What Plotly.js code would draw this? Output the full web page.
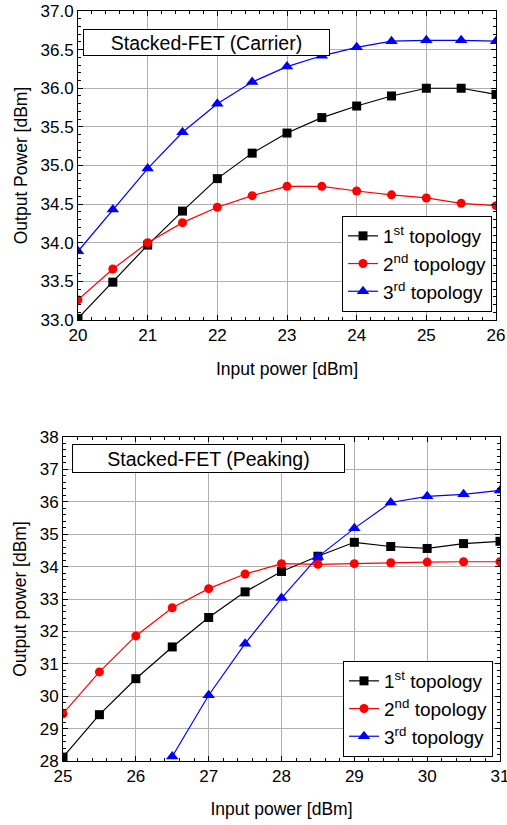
<!DOCTYPE html>
<html><head><meta charset="utf-8">
<script src="https://cdn.plot.ly/plotly-3.0.1.min.js"></script>
<style>body{margin:0;padding:0;background:#fff}#chart{width:507px;height:825px}</style>
</head><body><div id="chart"></div>
<script>
// Carrier (top)
const carrierX = [20,20.5,21,21.5,22,22.5,23,23.5,24,24.5,25,25.5,26];
const carrierT1 = [33.02,33.49,33.97,34.41,34.83,35.16,35.42,35.62,35.77,35.90,36.00,36.00,35.92];
const carrierT2 = [33.26,33.66,34.00,34.26,34.46,34.61,34.73,34.73,34.67,34.62,34.58,34.51,34.48];
const carrierT3 = [33.89,34.43,34.96,35.43,35.80,36.08,36.28,36.42,36.53,36.61,36.62,36.62,36.61];
// Peaking (bottom)
const peakX = [25,25.5,26,26.5,27,27.5,28,28.5,29,29.5,30,30.5,31];
const peakT1 = [28.12,29.43,30.54,31.52,32.43,33.22,33.85,34.32,34.75,34.62,34.56,34.71,34.78];
const peakT2 = [29.46,30.75,31.86,32.73,33.32,33.77,34.09,34.07,34.09,34.12,34.14,34.15,34.15];
const peakX3 = [26.5,27,27.5,28,28.5,29,29.5,30,30.5,31];
const peakT3 = [28.14,30.03,31.62,33.03,34.30,35.18,35.98,36.17,36.23,36.35];
const names = ['1<sup>st</sup> topology','2<sup>nd</sup> topology','3<sup>rd</sup> topology'];
const titles = ['Stacked-FET (Carrier)','Stacked-FET (Peaking)'];

const colors = ['#000000','#ff0000','#0000ff'];
const symbols = ['square','circle','triangle-up'];
const font = 'Liberation Sans, Arial, sans-serif';

function tr(x,y,i,ax,leg){
  return {x:x,y:y,name:names[i],type:'scatter',mode:'lines+markers',
    xaxis:ax[0],yaxis:ax[1],legend:leg,cliponaxis:true,
    line:{color:colors[i],width:1.2},
    marker:{symbol:symbols[i],size:symbols[i]==='triangle-up'?11:9,color:colors[i]}};
}
const data = [
  tr(carrierX,carrierT1,0,['x','y'],'legend'),
  tr(carrierX,carrierT2,1,['x','y'],'legend'),
  tr(carrierX,carrierT3,2,['x','y'],'legend'),
  tr(peakX,peakT1,0,['x2','y2'],'legend2'),
  tr(peakX,peakT2,1,['x2','y2'],'legend2'),
  tr(peakX3,peakT3,2,['x2','y2'],'legend2')
];
const W=507,H=825;
function axis(extra){
  return Object.assign({showgrid:true,gridcolor:'#b0b0b0',gridwidth:1,
    showline:true,linecolor:'#000',linewidth:1,mirror:'ticks',
    ticks:'inside',ticklen:5,tickcolor:'#000',zeroline:false,
    ticklabeloverflow:'allow',
    tickfont:{family:font,size:17,color:'#000'},
    minor:{ticks:'inside',ticklen:3,tickcolor:'#000',showgrid:false}},extra);
}
const layout = {
  width:W,height:H,margin:{l:0,r:0,t:0,b:0},
  paper_bgcolor:'#fff',plot_bgcolor:'#fff',
  font:{family:font,color:'#000'},
  xaxis:axis({domain:[78/W,496/W],range:[20,26],dtick:1,anchor:'y',
    title:{text:'Input power [dBm]',font:{family:font,size:17.5},standoff:18}}),
  yaxis:axis({domain:[1-320/H,1-11/H],range:[33,37],dtick:0.5,tickformat:'.1f',anchor:'x',
    title:{text:'Output Power [dBm]',font:{family:font,size:17.5},standoff:8}}),
  xaxis2:axis({domain:[63/W,500/W],range:[25,31],dtick:1,anchor:'y2',
    title:{text:'Input power [dBm]',font:{family:font,size:17.5},standoff:17}}),
  yaxis2:axis({domain:[1-761/H,1-437/H],range:[28,38],dtick:1,anchor:'x2',
    title:{text:'Output power [dBm]',font:{family:font,size:17.5},standoff:8}}),
  legend:{x:492/W,y:1-312/H,xanchor:'right',yanchor:'bottom',bgcolor:'#fff',
    bordercolor:'#000',borderwidth:1,font:{family:font,size:19},tracegroupgap:0},
  legend2:{x:493/W,y:1-757/H,xanchor:'right',yanchor:'bottom',bgcolor:'#fff',
    bordercolor:'#000',borderwidth:1,font:{family:font,size:19},tracegroupgap:0},
  annotations:[
    {text:titles[0],xref:'paper',yref:'paper',x:206.5/W,y:1-28.5/H,showarrow:false,
     width:245,height:25,borderpad:0,bordercolor:'#000',borderwidth:1,bgcolor:'#fff',
     font:{family:font,size:19.5,color:'#000'}},
    {text:titles[1],xref:'paper',yref:'paper',x:208.5/W,y:1-458.5/H,showarrow:false,
     width:271,height:27,borderpad:0,bordercolor:'#000',borderwidth:1,bgcolor:'#fff',
     font:{family:font,size:19.5,color:'#000'}}
  ],
  showlegend:true
};
Plotly.newPlot('chart',data,layout,{displayModeBar:false,staticPlot:true});
</script></body></html>
